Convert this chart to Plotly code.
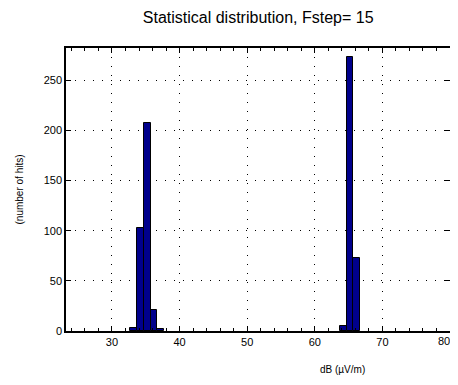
import plotly.graph_objects as go

bin_centers = [33.2, 34.2, 35.2, 36.2, 37.2, 64.2, 65.2, 66.2]
counts = [3, 103, 207, 21, 2, 5, 273, 73]
x_ticks = [30, 40, 50, 60, 70, 80]
y_ticks = [0, 50, 100, 150, 200, 250]

fig = go.Figure()
fig.add_trace(go.Bar(
    x=bin_centers, y=counts, width=1.0,
    marker=dict(color="rgb(0,0,140)", line=dict(color="black", width=1)),
))

font = "Liberation Sans, Arial, sans-serif"
# page body adds an 8px offset, so the figure is sized 8px smaller
fig.update_layout(
    width=450, height=377,
    margin=dict(l=58, r=6, t=40, b=54),
    paper_bgcolor="white", plot_bgcolor="white",
    showlegend=False,
    bargap=0,
    title=dict(text="Statistical distribution, Fstep= 15", x=0.556, xanchor="center",
               y=0.975, yanchor="middle", font=dict(family=font, size=16, color="black")),
    font=dict(family=font, color="black"),
)
fig.update_xaxes(
    range=[23.2, 80], tickvals=x_ticks[:-1], ticks="inside", ticklen=5, tickcolor="black",
    showline=True, linecolor="black", linewidth=1.5, mirror="ticks",
    showgrid=True, gridcolor="black", gridwidth=1, griddash="1px,8px",
    tickfont=dict(size=11, family=font), zeroline=False, automargin=False,
    minor=dict(dtick=2, tick0=0, ticks="inside", ticklen=3, tickcolor="black", showgrid=False),
)
fig.update_yaxes(
    range=[0, 282], tickvals=y_ticks, ticks="inside", ticklen=5, tickcolor="black",
    showline=True, linecolor="black", linewidth=1.5, mirror="ticks",
    showgrid=True, gridcolor="black", gridwidth=1, griddash="1px,8px",
    tickfont=dict(size=11, family=font), zeroline=False,
    title=dict(text="(number of hits)", font=dict(size=10, family=font), standoff=18),
)
# last x tick label sits at the very right edge of the page
fig.add_annotation(text=str(x_ticks[-1]), x=x_ticks[-1], xref="x", y=0, yref="paper",
                   xanchor="right", yanchor="top", xshift=2, yshift=-2, showarrow=False,
                   font=dict(size=11, family=font, color="black"))
fig.add_annotation(text="dB (µV/m)", x=0.72, xref="paper", y=-0.135, yref="paper",
                   xanchor="center", yanchor="middle", showarrow=False,
                   font=dict(size=10, family=font, color="black"))
fig.write_html("out.html")
